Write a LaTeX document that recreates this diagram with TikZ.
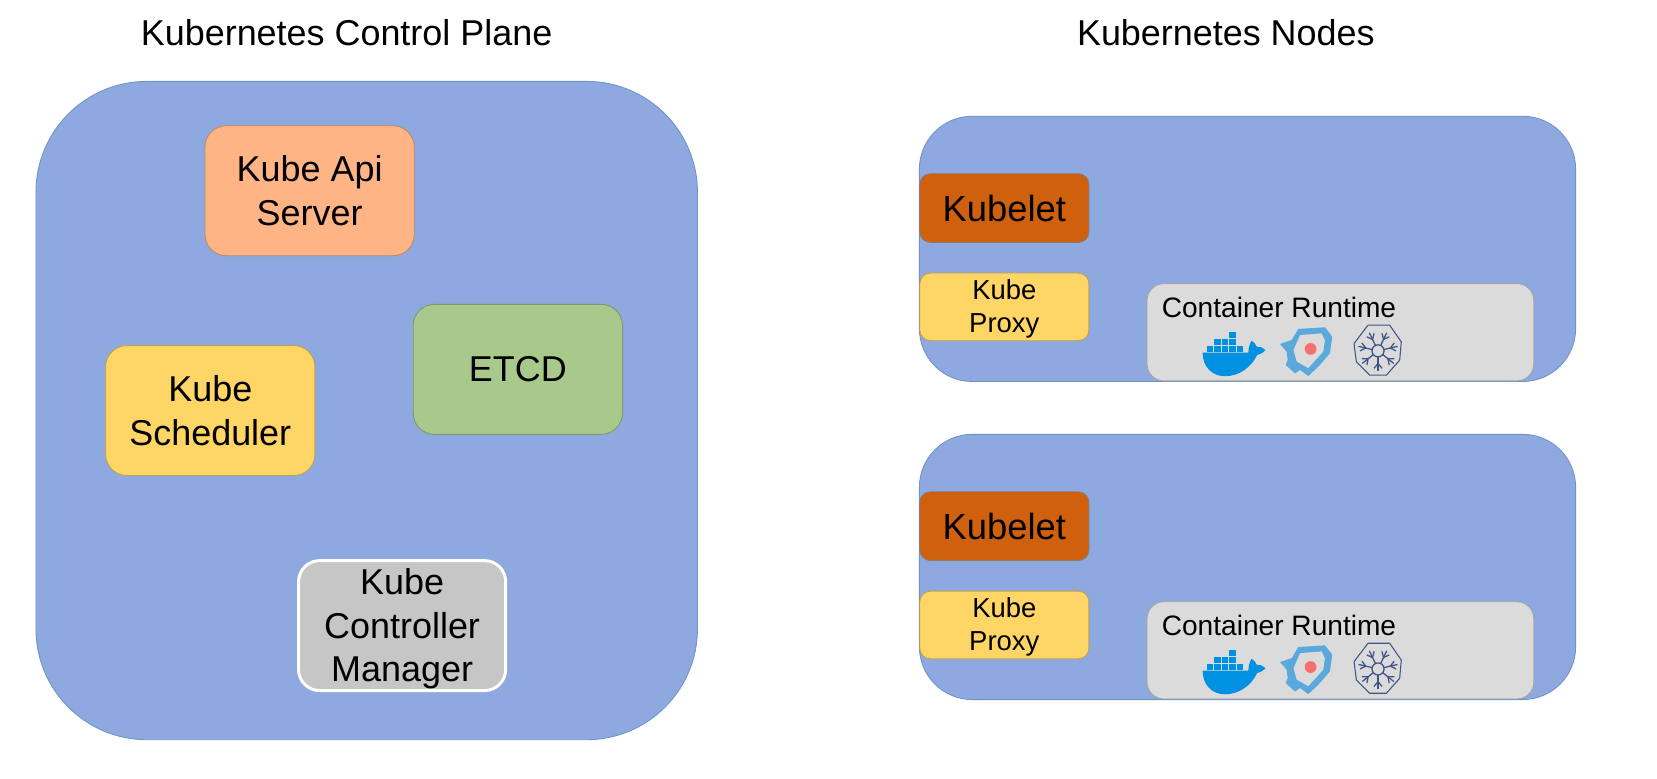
\documentclass[tikz,border=0pt]{standalone}
\usepackage{fontspec}
\setmainfont{Liberation Sans}
\definecolor{panelblue}{HTML}{8EA9DF}
\definecolor{paneledge}{HTML}{6F93C9}
\definecolor{apiorange}{HTML}{FFB485}
\definecolor{etcdgreen}{HTML}{A9C98C}
\definecolor{schedyellow}{HTML}{FFD566}
\definecolor{ctrlgrey}{HTML}{C6C6C6}
\definecolor{kubeletorange}{HTML}{CF600E}
\definecolor{runtimegrey}{HTML}{DBDBDB}
\definecolor{dockerblue}{HTML}{0091E2}
\definecolor{shieldblue}{HTML}{5BA8DC}
\definecolor{dotpink}{HTML}{F7706F}
\definecolor{k8snavy}{HTML}{3F5487}
\tikzset{
  x=0.5pt,y=-0.5pt,
  panel/.style={fill=panelblue,draw=paneledge,line width=0.4pt},
  box/.style={draw=#1!75!black,line width=0.4pt,align=center,inner sep=0pt,text=black,font=\fontsize{17}{20.5}\selectfont},
  label/.style={inner sep=0pt,text=black,font=\fontsize{17}{20}\selectfont},
  pics/docker/.style={code={
    \fill[dockerblue] (1,21.7) -- (44.3,21.7) .. controls (44.6,17) and (45,14) .. (47.4,10.4) .. controls (50,12) and (51.5,14) .. (52.1,16) .. controls (55,15.5) and (58,17) .. (60.5,19.2) .. controls (58,22) and (55,23.5) .. (52.5,24) .. controls (47,36) and (35,44) .. (22.2,44) .. controls (9,44) and (1,34) .. (1,21.7) -- cycle;
    \foreach \bx/\by in {4.8/15.3,12/15.3,19.2/15.3,26.4/15.3,33.6/15.3,12/8.7,19.2/8.7,26.4/8.7,26.4/2.1}
      \fill[dockerblue] (\bx,\by) rectangle ++(6,5.5);
  }},
  pics/shield/.style={code={
    \fill[shieldblue,even odd rule]
      (-0.8,15.5) -- (10.3,11.7) -- (16.6,1.3) -- (41.8,-0.3) -- (48.7,8.6) -- (46.5,24.3) -- (35.5,37) -- (26,45.8) -- (18.2,40.1) -- (13.4,43.3) -- (4.6,35.4) -- (6.5,30.6) -- (5.5,22.8) -- cycle
      (18.2,7) -- (38.6,5.4) -- (41.8,11.7) -- (40.2,22.8) -- (26,38.5) -- (15,32.2) -- (11.9,21.2) -- cycle;
    \fill[dotpink] (28.2,20.2) circle (5.6);
  }},
  pics/wheel/.style={code={
    \draw[k8snavy,line width=0.5pt,line join=round]
      (-9.5,-24.3) -- (11,-24.3) -- (22,-8.5) -- (20.5,8.8) -- (7.9,23) -- (-7.9,23) -- (-20.5,10.4) -- (-22.7,-6.9) -- cycle;
    \draw[k8snavy,line width=0.6pt] (0,0) circle (5.7);
    \foreach \ang in {90,38.6,-12.9,-64.3,-115.7,-167.1,141.4}{
      \draw[k8snavy,line width=0.6pt] (\ang:5.7) -- (\ang:19);
      \draw[k8snavy,line width=0.6pt] (\ang:12) -- ++(\ang+40:6);
      \draw[k8snavy,line width=0.6pt] (\ang:12) -- ++(\ang-40:6);
    }
  }},
}
\newcommand{\workernode}[2]{%
  \draw[panel,rounded corners=25pt] (870,#1) rectangle (1491,#1+251);
  \node[box=kubeletorange,draw=gray!80!kubeletorange,fill=kubeletorange,rounded corners=5pt,minimum width=80pt,minimum height=32.5pt,font=\fontsize{17.2}{21}\selectfont,anchor=north west] (kubelet#2) at (870,#1+54) {Kubelet};
  \node[box=schedyellow,fill=schedyellow,rounded corners=5pt,minimum width=80pt,minimum height=32pt,font=\fontsize{13}{15.5}\selectfont,anchor=north west] (proxy#2) at (870,#1+148) {\rule{0pt}{11.4pt}Kube\\Proxy};
  \node[box=runtimegrey,fill=runtimegrey,rounded corners=8pt,minimum width=183pt,minimum height=46pt,anchor=north west] (runtime#2) at (1085,#1+158) {};
  \node[font=\fontsize{13.3}{16}\selectfont,inner sep=0pt,anchor=west,text=black] (runtimelabel#2) at (1099,#1+181) {Container Runtime};
  \pic at (1137,#1+202) {docker};
  \pic at (1212,#1+200) {shield};
  \pic at (1304,#1+222) {wheel};
}
\begin{document}
\begin{tikzpicture}
\useasboundingbox (0,0) rectangle (1568,737);
\node[label] (titlecp) at (328,31) {Kubernetes Control Plane};
\node[label] (titlen) at (1160,31) {Kubernetes Nodes};
\draw[panel,rounded corners=52.5pt] (34,77) rectangle (660,700);
\node[box=apiorange,fill=apiorange,rounded corners=10pt,minimum width=99pt,minimum height=61.5pt] (api) at (293,180.5) {Kube Api\\Server};
\node[box=etcdgreen,fill=etcdgreen,rounded corners=10pt,minimum width=99pt,minimum height=61.5pt] (etcd) at (490,349.5) {ETCD};
\node[box=schedyellow,fill=schedyellow,rounded corners=10pt,minimum width=99pt,minimum height=61.5pt] (sched) at (199,388.5) {Kube\\Scheduler};
\node[box=ctrlgrey,draw=white,line width=1.4pt,fill=ctrlgrey,rounded corners=10pt,minimum width=98pt,minimum height=61.5pt] (ctrl) at (380.5,592) {\rule{0pt}{15.3pt}Kube\\Controller\\Manager};
\workernode{110}{a}
\workernode{411}{b}
\end{tikzpicture}
\end{document}
